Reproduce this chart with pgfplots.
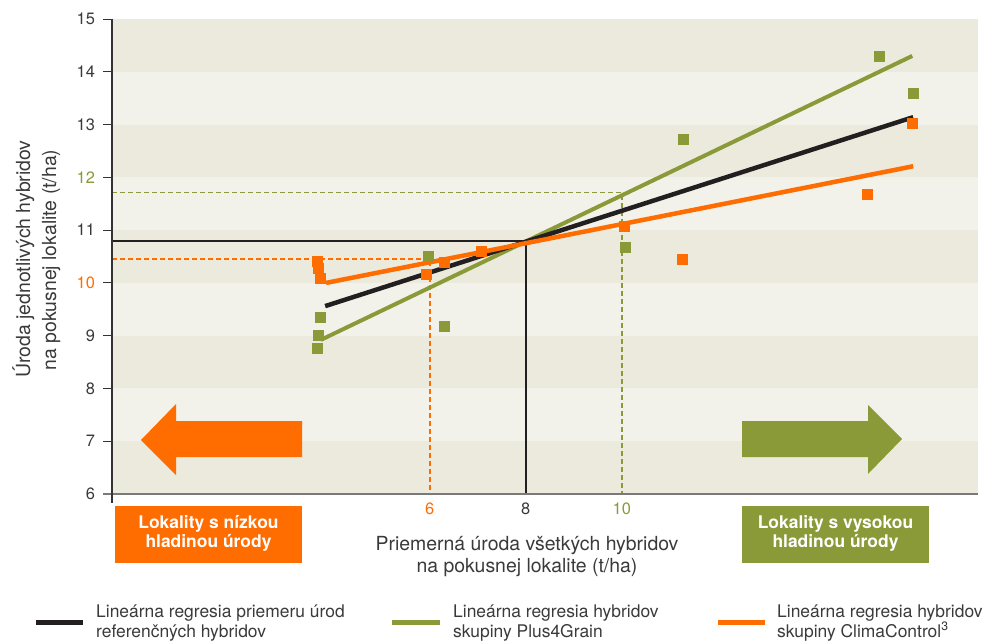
\documentclass[border=0pt]{standalone}
\usepackage{pgfplots}
\pgfplotsset{compat=1.18}
\usepackage{fontspec}
\setmainfont{TeX Gyre Heros}
\definecolor{orangec}{HTML}{FF6C00}
\definecolor{olivec}{HTML}{8A9A38}
\definecolor{blackc}{HTML}{231F20}
\definecolor{banddark}{HTML}{ECEADD}
\definecolor{bandlight}{HTML}{F3F2EA}
\definecolor{labelc}{HTML}{3A3A3A}
\definecolor{tickc}{HTML}{333333}
\definecolor{axisgray}{HTML}{7A7A7A}
\begin{document}
\begin{tikzpicture}[x=1bp,y=1bp]
\begin{axis}[
  at={(112bp,-494bp)}, anchor=south west,
  scale only axis, width=866bp, height=475bp,
  xmin=-0.62, xmax=17.42, ymin=6, ymax=15,
  axis line style={draw=none},
  xtick={6,8,10},
  xticklabels={\textcolor{orangec}{6},8,\textcolor{olivec}{10}},
  ytick={6,7,8,9,10,11,12,13,14,15},
  yticklabels={6,7,8,9,\textcolor{orangec}{10},11,\textcolor{olivec}{12},13,14,15},
  xtick pos=left, ytick pos=left,
  tick align=outside, major tick length=9bp,
  xtick style={draw=none},
  ytick style={draw=tickc, line width=1bp},
  ticklabel style={font=\fontsize{16.5}{18}\selectfont, text=labelc},
  xticklabel style={yshift=4bp},
  yticklabel style={xshift=-4.5bp},
]
% background bands
\fill[banddark]  (axis cs:-0.62,14) rectangle (axis cs:17.42,15);
\fill[bandlight] (axis cs:-0.62,13) rectangle (axis cs:17.42,14);
\fill[banddark]  (axis cs:-0.62,12) rectangle (axis cs:17.42,13);
\fill[bandlight] (axis cs:-0.62,11) rectangle (axis cs:17.42,12);
\fill[banddark]  (axis cs:-0.62,10) rectangle (axis cs:17.42,11);
\fill[bandlight] (axis cs:-0.62,9) rectangle (axis cs:17.42,10);
\fill[banddark]  (axis cs:-0.62,8) rectangle (axis cs:17.42,9);
\fill[bandlight] (axis cs:-0.62,7) rectangle (axis cs:17.42,8);
\fill[banddark]  (axis cs:-0.62,6) rectangle (axis cs:17.42,7);
% reference lines
\addplot[blackc, line width=1.4bp] coordinates {(-0.62,10.79) (8,10.79) (8,6)};
\addplot[orangec, line width=1.5bp, dash pattern=on 5bp off 3bp] coordinates {(-0.62,10.45) (6,10.45) (6,6)};
\addplot[olivec, line width=1.5bp, dash pattern=on 5bp off 3bp] coordinates {(-0.62,11.71) (10,11.71) (10,6)};
% scatter points
\addplot[only marks, mark=square*, mark size=5bp, color=orangec] coordinates {
 (3.65,10.42) (3.67,10.28) (3.71,10.09) (5.92,10.17) (6.30,10.40) (7.07,10.60)
 (10.05,11.08) (11.25,10.45) (15.11,11.68) (16.05,13.03)};
\addplot[only marks, mark=square*, mark size=5bp, color=olivec] coordinates {
 (3.71,9.35) (3.67,9.01) (3.65,8.77) (5.96,10.51) (6.30,9.18)
 (11.28,12.73) (10.07,10.68) (15.36,14.30) (16.07,13.60)};
% regression lines
\addplot[olivec, line width=4bp] coordinates {(3.73,8.92) (16.05,14.30)};
\addplot[blackc, line width=4.5bp] coordinates {(3.82,9.56) (16.07,13.14)};
\addplot[orangec, line width=4.5bp] coordinates {(3.84,10.00) (16.07,12.21)};
\end{axis}
% axis lines
\draw[axisgray, line width=2bp] (103,-494) -- (978,-494);
\draw[tickc, line width=1.2bp] (112,-19) -- (112,-503);
% arrows
\fill[orangec] (302,-421) -- (176,-421) -- (176,-404) -- (141,-440) -- (176,-475) -- (176,-457) -- (302,-457) -- cycle;
\fill[olivec] (742,-421) -- (868,-421) -- (868,-405) -- (902,-439) -- (868,-474) -- (868,-457) -- (742,-457) -- cycle;
% boxes
\fill[orangec] (115,-506) rectangle (302,-563);
\fill[olivec] (742,-506) rectangle (929,-563);
\begin{scope}[every node/.style={text=white, font=\fontsize{17.5}{20}\selectfont\bfseries, inner sep=0pt}]
\node[anchor=base] at (208.5,-528) {Lokality s nízkou};
\node[anchor=base] at (208.5,-547) {hladinou úrody};
\node[anchor=base] at (835.5,-528) {Lokality s vysokou};
\node[anchor=base] at (835.5,-547) {hladinou úrody};
\end{scope}
% axis titles
\begin{scope}[every node/.style={text=labelc, font=\fontsize{19.5}{22}\selectfont, inner sep=0pt}]
\node[anchor=base] at (527,-550) {Priemerná úroda všetkých hybridov};
\node[anchor=base] at (527,-572) {na pokusnej lokalite (t/ha)};
\node[anchor=base, rotate=90] at (30,-259) {Úroda jednotlivých hybridov};
\node[anchor=base, rotate=90] at (56,-260) {na pokusnej lokalite (t/ha)};
\end{scope}
% legend
\draw[blackc, line width=5bp] (36,-622) -- (83,-622);
\draw[olivec, line width=5bp] (392,-622) -- (440,-622);
\draw[orangec, line width=5bp] (718,-622) -- (765,-622);
\begin{scope}[every node/.style={text=labelc, font=\fontsize{17.5}{20}\selectfont, inner sep=0pt, anchor=base west}]
\node at (96,-617) {Lineárna regresia priemeru úrod};
\node at (96,-637) {referenčných hybridov};
\node at (453,-617) {Lineárna regresia hybridov};
\node at (453,-637) {skupiny Plus4Grain};
\node at (777,-617) {Lineárna regresia hybridov};
\node at (777,-637) {skupiny ClimaControl\textsuperscript{3}};
\end{scope}
\pgfresetboundingbox
\useasboundingbox (0,0) rectangle (989,-642);
\end{tikzpicture}
\end{document}
